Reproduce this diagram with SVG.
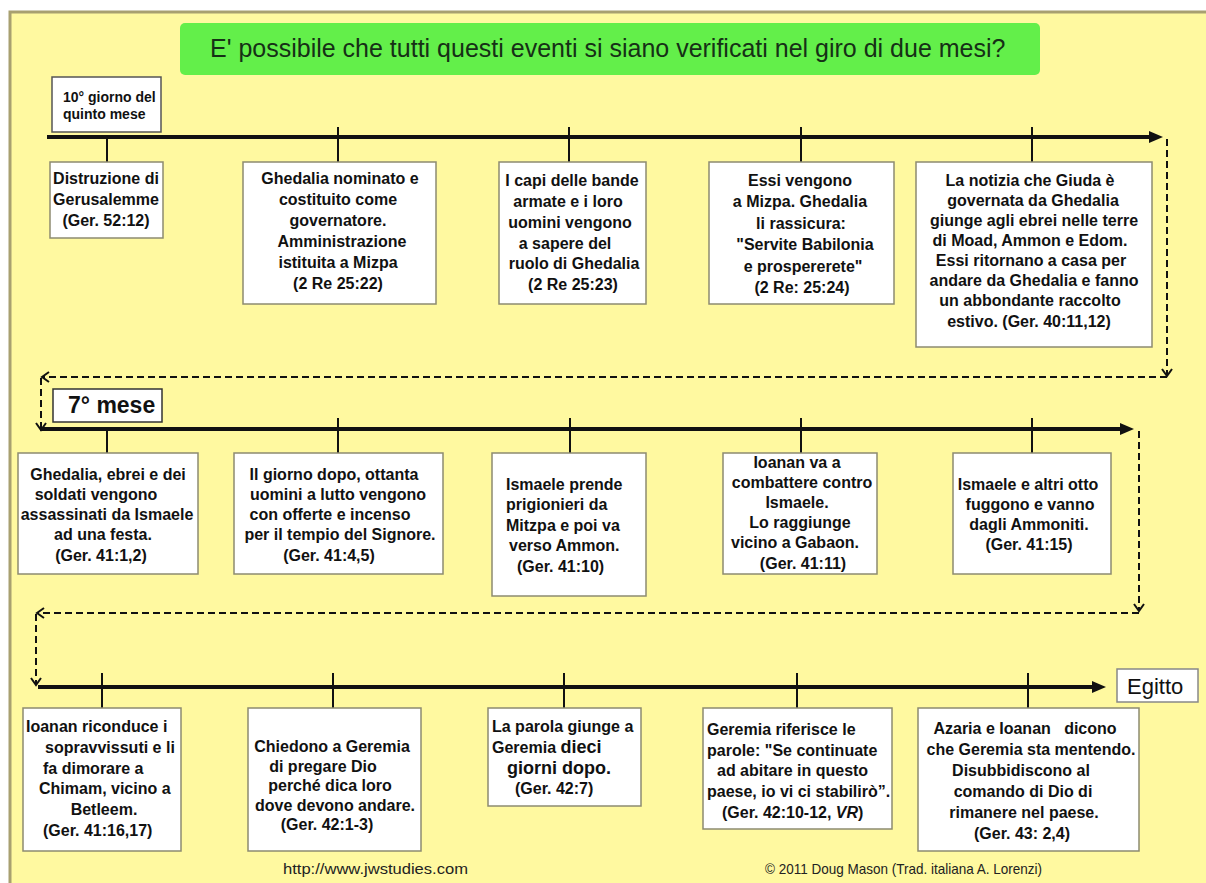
<svg xmlns="http://www.w3.org/2000/svg" width="1206" height="883" viewBox="0 0 1206 883">
<defs>
<style>
.bx{fill:#fff;stroke:#8d8b70;stroke-width:1.5}
.lb{fill:#fff;stroke:#555;stroke-width:1.5}
.t{font-family:"Liberation Sans",Arial,sans-serif;font-weight:bold;font-size:16px;fill:#111}
.n{font-family:"Liberation Sans",Arial,sans-serif;font-weight:normal;fill:#111}
.c{text-anchor:middle}
.tick{stroke:#111;stroke-width:2}
.tl{stroke:#111;stroke-width:4;fill:none;marker-end:url(#ah)}
.dash{stroke:#111;stroke-width:2;stroke-dasharray:7 4;fill:none;marker-end:url(#oh)}
</style>
<marker id="ah" markerUnits="userSpaceOnUse" markerWidth="15" markerHeight="12" refX="4" refY="6" orient="auto" overflow="visible">
<path d="M0,0 L14,6 L0,12 z" fill="#111"/>
</marker>
<marker id="oh" markerUnits="userSpaceOnUse" markerWidth="10" markerHeight="12" refX="7" refY="5" orient="auto" overflow="visible">
<path d="M0,0 L7,5 L0,10" fill="none" stroke="#111" stroke-width="2"/>
</marker>
</defs>

<rect x="0" y="0" width="1206" height="883" fill="#fff"/>
<rect x="10" y="12" width="1220" height="900" fill="#fff9a0" stroke="#a8a070" stroke-width="3"/>

<g id="title">
<rect x="180" y="23" width="860" height="52" rx="5" fill="#63ef4a"/>
<text x="210" y="57" class="n" style="font-size:25px;fill:#163016">E' possibile che tutti questi eventi si siano verificati nel giro di due mesi?</text>
</g>

<g id="connectors">
<line class="tl" x1="47" y1="137" x2="1153" y2="137"/>
<line class="tl" x1="40" y1="429" x2="1124" y2="429"/>
<line class="tl" x1="38" y1="687" x2="1096" y2="687"/>
<line class="tick" x1="107" y1="137" x2="107" y2="162"/>
<line class="tick" x1="338" y1="127" x2="338" y2="162"/>
<line class="tick" x1="569" y1="127" x2="569" y2="162"/>
<line class="tick" x1="801" y1="127" x2="801" y2="162"/>
<line class="tick" x1="1032" y1="127" x2="1032" y2="162"/>
<line class="tick" x1="107" y1="429" x2="107" y2="453"/>
<line class="tick" x1="338" y1="418" x2="338" y2="453"/>
<line class="tick" x1="570" y1="418" x2="570" y2="453"/>
<line class="tick" x1="801" y1="418" x2="801" y2="453"/>
<line class="tick" x1="1032" y1="418" x2="1032" y2="453"/>
<line class="tick" x1="102" y1="673" x2="102" y2="708"/>
<line class="tick" x1="333" y1="673" x2="333" y2="708"/>
<line class="tick" x1="564" y1="673" x2="564" y2="708"/>
<line class="tick" x1="797" y1="673" x2="797" y2="708"/>
<line class="tick" x1="1028" y1="673" x2="1028" y2="708"/>
<path class="dash" d="M1167,139 V376"/>
<path class="dash" d="M1167,377 H42"/>
<path class="dash" d="M41,378 V430"/>
<path class="dash" d="M1139,431 V611"/>
<path class="dash" d="M1139,613 H37"/>
<path class="dash" d="M36,614 V685"/>
</g>

<g id="label-quinto-mese">
<rect class="lb" x="52" y="77" width="109" height="55"/>
<text class="t" style="font-size:14px" x="63" y="102">10° giorno del</text>
<text class="t" style="font-size:14px" x="63" y="119">quinto mese</text>
</g>

<g id="ev1">
<rect class="bx" x="50" y="162" width="113" height="76"/>
<text class="t c" x="106" y="184">Distruzione di</text>
<text class="t c" x="106" y="205">Gerusalemme</text>
<text class="t c" x="106" y="226">(Ger. 52:12)</text>
</g>

<g id="ev2">
<rect class="bx" x="243" y="162" width="193" height="142"/>
<text class="t c" x="340" y="184">Ghedalia nominato e</text>
<text class="t c" x="338" y="205">costituito come</text>
<text class="t c" x="338" y="226">governatore.</text>
<text class="t c" x="342" y="247">Amministrazione</text>
<text class="t c" x="338" y="268">istituita a Mizpa</text>
<text class="t c" x="338" y="289">(2 Re 25:22)</text>
</g>

<g id="ev3">
<rect class="bx" x="499" y="162" width="147" height="142"/>
<text class="t c" x="572" y="186">I capi delle bande</text>
<text class="t c" x="568" y="207">armate e i loro</text>
<text class="t c" x="570" y="228">uomini vengono</text>
<text class="t c" x="565" y="249">a sapere del</text>
<text class="t c" x="574" y="269">ruolo di Ghedalia</text>
<text class="t c" x="573" y="290">(2 Re 25:23)</text>
</g>

<g id="ev4">
<rect class="bx" x="709" y="162" width="185" height="142"/>
<text class="t c" x="800" y="186">Essi vengono</text>
<text class="t c" x="800" y="207">a Mizpa. Ghedalia</text>
<text class="t c" x="801" y="229">li rassicura:</text>
<text class="t c" x="805" y="250">"Servite Babilonia</text>
<text class="t c" x="803" y="272">e prospererete"</text>
<text class="t c" x="802" y="293">(2 Re: 25:24)</text>
</g>

<g id="ev5">
<rect class="bx" x="916" y="162" width="236" height="185"/>
<text class="t c" x="1030" y="186">La notizia che Giuda è</text>
<text class="t c" x="1033" y="206">governata da Ghedalia</text>
<text class="t c" x="1034" y="226">giunge agli ebrei nelle terre</text>
<text class="t c" x="1030" y="246">di Moad, Ammon e Edom.</text>
<text class="t c" x="1031" y="266">Essi ritornano a casa per</text>
<text class="t c" x="1034" y="286">andare da Ghedalia e fanno</text>
<text class="t c" x="1030" y="306">un abbondante raccolto</text>
<text class="t c" x="1029" y="327">estivo. (Ger. 40:11,12)</text>
</g>

<g id="label-settimo-mese">
<rect class="lb" x="53" y="389" width="109" height="33" style="stroke:#333"/>
<text class="t" style="font-size:23px" x="68" y="413">7° mese</text>
</g>

<g id="ev6">
<rect class="bx" x="18" y="453" width="180" height="121"/>
<text class="t c" x="108" y="480">Ghedalia, ebrei e dei</text>
<text class="t c" x="96" y="500">soldati vengono</text>
<text class="t c" x="107" y="520">assassinati da Ismaele</text>
<text class="t c" x="103" y="540">ad una festa.</text>
<text class="t c" x="101" y="561">(Ger. 41:1,2)</text>
</g>

<g id="ev7">
<rect class="bx" x="234" y="453" width="209" height="121"/>
<text class="t c" x="334" y="480">Il giorno dopo, ottanta</text>
<text class="t c" x="338" y="500">uomini a lutto vengono</text>
<text class="t c" x="330" y="520">con offerte e incenso</text>
<text class="t c" x="340" y="540">per il tempio del Signore.</text>
<text class="t c" x="329" y="561">(Ger. 41:4,5)</text>
</g>

<g id="ev8">
<rect class="bx" x="492" y="453" width="154" height="143"/>
<text class="t" x="506" y="490">Ismaele prende</text>
<text class="t" x="506" y="510">prigionieri da</text>
<text class="t" x="506" y="531">Mitzpa e poi va</text>
<text class="t" x="509" y="551">verso Ammon.</text>
<text class="t" x="517" y="572">(Ger. 41:10)</text>
</g>

<g id="ev9">
<rect class="bx" x="723" y="453" width="154" height="121"/>
<text class="t c" x="797" y="468">Ioanan va a</text>
<text class="t c" x="802" y="488">combattere contro</text>
<text class="t c" x="797" y="508">Ismaele.</text>
<text class="t c" x="800" y="528">Lo raggiunge</text>
<text class="t c" x="795" y="548">vicino a Gabaon.</text>
<text class="t c" x="803" y="569">(Ger. 41:11)</text>
</g>

<g id="ev10">
<rect class="bx" x="953" y="453" width="158" height="121"/>
<text class="t c" x="1028" y="490">Ismaele e altri otto</text>
<text class="t c" x="1030" y="510">fuggono e vanno</text>
<text class="t c" x="1029" y="530">dagli Ammoniti.</text>
<text class="t c" x="1029" y="550">(Ger. 41:15)</text>
</g>

<g id="ev11">
<rect class="bx" x="23" y="708" width="158" height="143"/>
<text class="t" x="26" y="732">Ioanan riconduce i</text>
<text class="t" x="45" y="753">sopravvissuti e li</text>
<text class="t" x="43" y="774">fa dimorare a</text>
<text class="t" x="39" y="794">Chimam, vicino a</text>
<text class="t c" x="104" y="815">Betleem.</text>
<text class="t" x="43" y="836">(Ger. 41:16,17)</text>
</g>

<g id="ev12">
<rect class="bx" x="248" y="708" width="173" height="143"/>
<text class="t c" x="332" y="752">Chiedono a Geremia</text>
<text class="t c" x="323" y="772">di pregare Dio</text>
<text class="t c" x="330" y="791">perché dica loro</text>
<text class="t c" x="335" y="811">dove devono andare.</text>
<text class="t c" x="327" y="830">(Ger. 42:1-3)</text>
</g>

<g id="ev13">
<rect class="bx" x="488" y="708" width="153" height="98"/>
<text class="t" x="492" y="732">La parola giunge a</text>
<text class="t" x="492" y="753">Geremia <tspan style="font-size:18px">dieci</tspan></text>
<text class="t" style="font-size:18px" x="507" y="774">giorni dopo.</text>
<text class="t" x="515" y="794">(Ger. 42:7)</text>
</g>

<g id="ev14">
<rect class="bx" x="703" y="708" width="189" height="121"/>
<text class="t" x="707" y="735">Geremia riferisce le</text>
<text class="t" x="707" y="756">parole: "Se continuate</text>
<text class="t" x="717" y="776">ad abitare in questo</text>
<text class="t" x="707" y="797">paese, io vi ci stabilirò”.</text>
<text class="t" x="722" y="818">(Ger. 42:10-12, <tspan font-style="italic">VR</tspan>)</text>
</g>

<g id="ev15">
<rect class="bx" x="918" y="708" width="221" height="143"/>
<text class="t c" x="1025" y="734" style="white-space:pre">Azaria e Ioanan   dicono</text>
<text class="t c" x="1031" y="755">che Geremia sta mentendo.</text>
<text class="t c" x="1021" y="776">Disubbidiscono al</text>
<text class="t c" x="1023" y="797">comando di Dio di</text>
<text class="t c" x="1024" y="818">rimanere nel paese.</text>
<text class="t c" x="1022" y="839">(Ger. 43: 2,4)</text>
</g>

<g id="label-egitto">
<rect x="1117" y="669" width="81" height="33" fill="#fff" stroke="#888" stroke-width="1.5"/>
<text class="n" style="font-size:22px" x="1127" y="694">Egitto</text>
</g>

<g id="footer">
<text class="n" style="font-size:15px;fill:#222" x="283" y="874" textLength="185" lengthAdjust="spacingAndGlyphs">http://www.jwstudies.com</text>
<text class="n" style="font-size:15px;fill:#222" x="765" y="874" textLength="277" lengthAdjust="spacingAndGlyphs">© 2011  Doug Mason (Trad. italiana A. Lorenzi)</text>
</g>
</svg>
